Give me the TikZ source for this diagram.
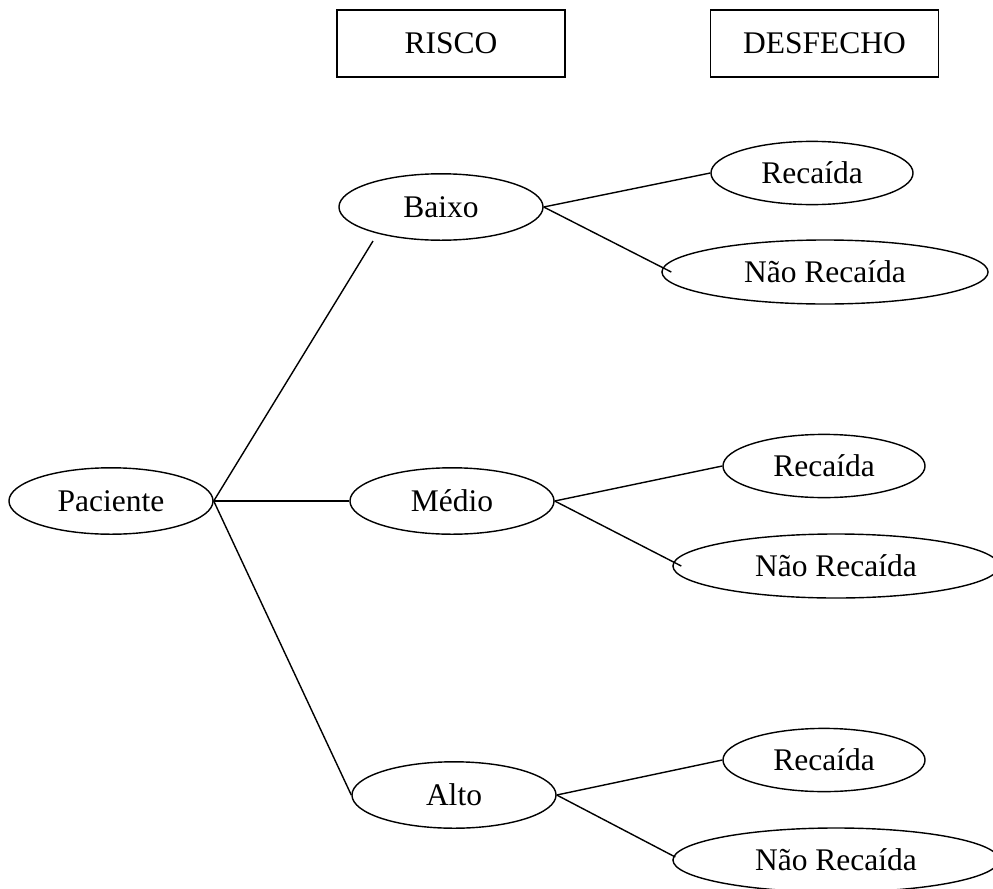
\documentclass[tikz,border=0pt]{standalone}
\usepackage{fontspec}
\setmainfont{Liberation Serif}
\usepackage{tikz}
\usetikzlibrary{shapes.geometric,calc}
\tikzset{
  head/.style={draw, line width=1pt, rectangle, minimum width=5.7cm, minimum height=1.68cm, inner sep=0pt},
  risk/.style={draw, line width=1pt, ellipse, minimum width=5.1cm, minimum height=1.66cm, inner sep=0pt},
  outc/.style={draw, line width=1pt, ellipse, minimum width=5.05cm, minimum height=1.58cm, inner sep=0pt},
  nrec/.style={outc, minimum width=8.15cm, minimum height=1.6cm},
  conn/.style={line width=1pt},
}

\begin{document}
\begin{tikzpicture}[x=0.025cm, y=-0.025cm, font=\fontsize{22.4}{27}\selectfont]
  \useasboundingbox (0,0) rectangle (993,888);
  \clip (0,0) rectangle (993,888);
  % column heads
  \node[head] (risco) at (451,43.5) {RISCO};
  \node[head] (desf) at (824.5,43.5) {DESFECHO};

  % nodes
  \node[risk] (pac) at (111,501) {Paciente};
  \node[risk] (baixo) at (441,207) {Baixo};
  \node[risk] (medio) at (452,501) {Médio};
  \node[risk] (alto) at (454,795) {Alto};

  \node[outc] (rec1) at (812,173) {Recaída};
  \node[nrec] (nrec1) at (825,272) {Não Recaída};
  \node[outc] (rec2) at (824,466) {Recaída};
  \node[nrec] (nrec2) at (836,566) {Não Recaída};
  \node[outc] (rec3) at (824,760) {Recaída};
  \node[nrec] (nrec3) at (836,860) {Não Recaída};

  % connections
  % the line to Baixo stops short of the ellipse
  \coordinate (bxtap) at (373,241);
  \draw[conn] (pac.east) -- (bxtap);
  \draw[conn] (pac.east) -- (medio.west);
  \draw[conn] (pac.east) -- (alto.west);

  \draw[conn] (baixo.east) -- (rec1.west);
  \draw[conn] (baixo.east) -- ($(nrec1.west)+(10,0)$);
  \draw[conn] (medio.east) -- (rec2.west);
  \draw[conn] (medio.east) -- ($(nrec2.west)+(9,0)$);
  \draw[conn] (alto.east) -- (rec3.west);
  \draw[conn] (alto.east) -- ($(nrec3.west)+(3,-3)$);
\end{tikzpicture}
\end{document}
